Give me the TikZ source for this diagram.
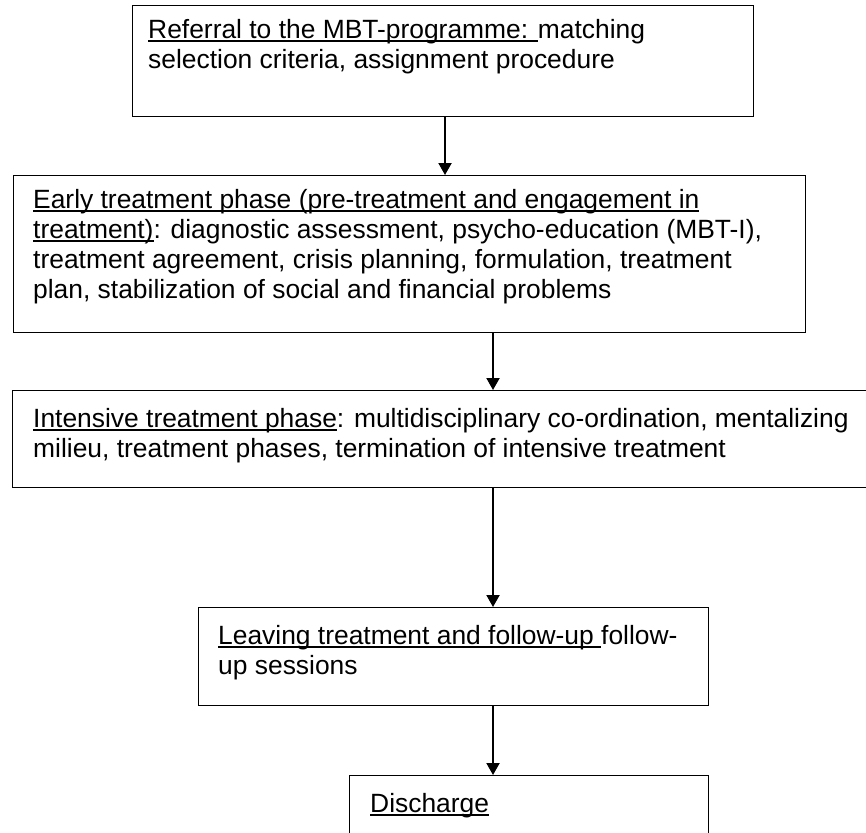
\documentclass[tikz,border=0pt]{standalone}
\usepackage{fontspec}
\setmainfont{Liberation Sans}
\usetikzlibrary{arrows.meta}
\newcommand\myul[1]{\setbox0\hbox{#1}\rlap{\rule[-3.6pt]{\wd0}{1.6pt}}\box0}
\newcommand\topstrut{\rule{0pt}{25pt}}
\tikzset{
  boxnode/.style={draw=black, line width=1.3pt, rectangle, inner sep=0pt, anchor=north west},
  txt/.style={anchor=north west, inner sep=0pt, align=left, font=\fontsize{26.4}{30}\selectfont, text=black},
  arr/.style={line width=2pt, -{Triangle[width=13pt,length=12pt]}}
}
\begin{document}
\begin{tikzpicture}[x=1pt,y=-1pt]
\useasboundingbox (0,0) rectangle (866,832);
\clip (0,0) rectangle (866,832);
\fill[white] (0,0) rectangle (866,832);
% boxes
\node[boxnode, minimum width=621pt, minimum height=111pt] (b1) at (132,5) {};
\node[boxnode, minimum width=792pt, minimum height=157pt] (b2) at (13,175) {};
\node[boxnode, minimum width=858pt, minimum height=97pt] (b3) at (12,390) {};
\node[boxnode, minimum width=510pt, minimum height=98pt] (b4) at (198,607) {};
\node[boxnode, minimum width=359pt, minimum height=80pt] (b5) at (349,775) {};
% texts
\node[txt] (t1) at (148,38-25) {\topstrut\myul{Referral to the MBT-programme: }matching\\selection criteria, assignment procedure};
\node[txt] (t2) at (33,208-25) {\topstrut\myul{Early treatment phase (pre-treatment and engagement in}\\\myul{treatment)}: diagnostic assessment, psycho-education (MBT-I),\\treatment agreement, crisis planning, formulation, treatment\\plan, stabilization of social and financial problems};
\node[txt] (t3) at (33,427-25) {\topstrut\myul{Intensive treatment phase}: multidisciplinary co-ordination, mentalizing\\milieu, treatment phases, termination of intensive treatment};
\node[txt] (t4) at (218,644-25) {\topstrut\myul{Leaving treatment and follow-up }follow-\\up sessions};
\node[txt] (t5) at (370,812-25) {\topstrut\myul{Discharge}};
% arrows
\coordinate (xa) at (445,0);
\coordinate (xb) at (493,0);
\draw[arr] (b1.south -| xa) -- (b2.north -| xa);
\draw[arr] (b2.south -| xb) -- (b3.north -| xb);
\draw[arr] (b3.south -| xb) -- (b4.north -| xb);
\draw[arr] (b4.south -| xb) -- (b5.north -| xb);
\end{tikzpicture}
\end{document}
